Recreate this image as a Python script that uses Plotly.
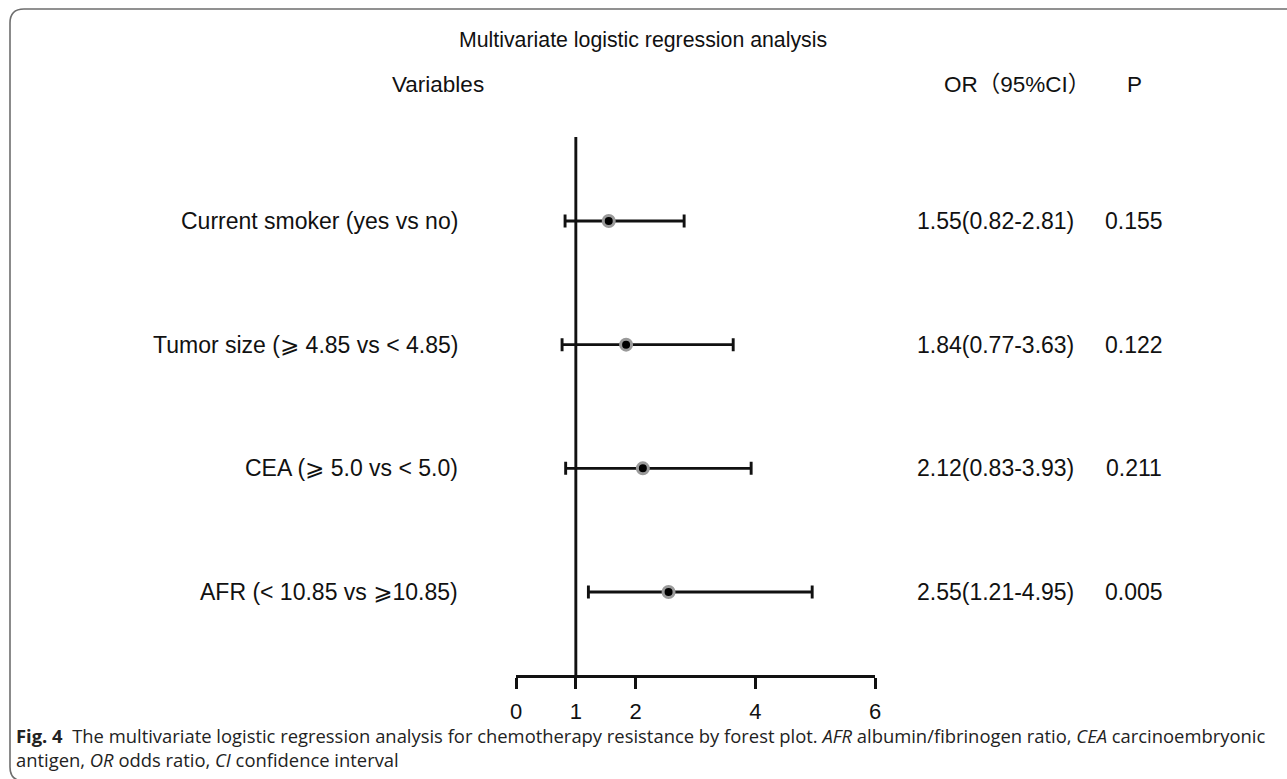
import plotly.graph_objects as go

# ---------------- data ----------------
variables = [
    "Current smoker (yes vs no)",
    "Tumor size (⩾ 4.85 vs < 4.85)",
    "CEA (⩾ 5.0 vs < 5.0)",
    "AFR (< 10.85 vs ⩾10.85)",
]
odds_ratio = [1.55, 1.84, 2.12, 2.55]
ci_low = [0.82, 0.77, 0.83, 1.21]
ci_high = [2.81, 3.63, 3.93, 4.95]
p_values = ["0.155", "0.122", "0.211", "0.005"]
row_pos = [4, 3, 2, 1]
x_ticks = [0, 1, 2, 4, 6]
null_value = 1

title_text = "Multivariate logistic regression analysis"
header_var = "Variables"
header_or = "OR（95%CI）"
header_p = "P"
caption = ("<b>Fig. 4</b>  The multivariate logistic regression analysis for chemotherapy resistance by forest plot. "
           "<i>AFR</i> albumin/fibrinogen ratio, <i>CEA</i> carcinoembryonic<br>"
           "antigen, <i>OR</i> odds ratio, <i>CI</i> confidence interval")

# ---------------- layout geometry (pixels) ----------------
W, H = 1287, 779
PL, PR = 516, 875      # plot area left/right
PT, PB = 137, 675      # plot area top/bottom
ROW_TOP_PX, ROW_BOT_PX = 221, 592


def px_x(px):
    return (px - PL) / (PR - PL)


def px_y(py):
    return (PB - py) / (PB - PT)


FONT = "Liberation Sans, Arial, Noto Sans CJK SC, DejaVu Sans, sans-serif"
TXT = dict(family=FONT, size=23, color="#111111")
HDR = dict(family=FONT, size=22.5, color="#111111")
TTL = dict(family=FONT, size=21.3, color="#111111")
TCK = dict(family=FONT, size=22, color="#111111")
LW = 2.9

or_text = [f"{o:.2f}({l:.2f}-{h:.2f})" for o, l, h in zip(odds_ratio, ci_low, ci_high)]

fig = go.Figure()
fig.add_trace(go.Scatter(
    x=odds_ratio, y=row_pos, mode="markers",
    marker=dict(size=11, color="#000000", line=dict(color="#9a9a9a", width=3)),
    error_x=dict(type="data", symmetric=False,
                 array=[h - o for h, o in zip(ci_high, odds_ratio)],
                 arrayminus=[o - l for o, l in zip(odds_ratio, ci_low)],
                 color="#111111", thickness=LW, width=6.5),
    cliponaxis=False, hoverinfo="skip", showlegend=False,
))

# reference line at OR = 1
fig.add_shape(type="line", xref="x", yref="paper", x0=null_value, x1=null_value,
              y0=0, y1=1, line=dict(color="#111111", width=LW), layer="below")

ann = []
ann.append(dict(text=title_text, xref="paper", yref="paper", x=px_x(643), y=px_y(40),
                showarrow=False, xanchor="center", yanchor="middle", font=TTL))
HY = 85
ann.append(dict(text=header_var, xref="paper", yref="paper", x=px_x(438), y=px_y(HY),
                showarrow=False, xanchor="center", yanchor="middle", font=HDR))
ann.append(dict(text=header_or, xref="paper", yref="paper", x=px_x(1017), y=px_y(HY),
                showarrow=False, xanchor="center", yanchor="middle", font=HDR))
ann.append(dict(text=header_p, xref="paper", yref="paper", x=px_x(1134), y=px_y(HY),
                showarrow=False, xanchor="center", yanchor="middle", font=HDR))
for v, yv, ot, pv in zip(variables, row_pos, or_text, p_values):
    ann.append(dict(text=v, xref="paper", yref="y", x=px_x(460), y=yv,
                    showarrow=False, xanchor="right", yanchor="middle", font=TXT))
    ann.append(dict(text=ot, xref="paper", yref="y", x=px_x(995), y=yv,
                    showarrow=False, xanchor="center", yanchor="middle", font=TXT))
    ann.append(dict(text=pv, xref="paper", yref="y", x=px_x(1134), y=yv,
                    showarrow=False, xanchor="center", yanchor="middle", font=TXT))
ann.append(dict(text=caption, xref="paper", yref="paper", x=px_x(14), y=px_y(721),
                showarrow=False, xanchor="left", yanchor="top", align="left",
                font=dict(family="Open Sans, Noto Sans, sans-serif", size=18.4, color="#222222")))

# rounded frame (left side visible, right and bottom sides beyond the page)
fx0, fy0, fy1, r = 10, 9, 781, 14
path = (f"M {px_x(1300)},{px_y(fy0)} L {px_x(fx0 + r)},{px_y(fy0)} "
        f"Q {px_x(fx0)},{px_y(fy0)} {px_x(fx0)},{px_y(fy0 + r)} "
        f"L {px_x(fx0)},{px_y(fy1 - r)} "
        f"Q {px_x(fx0)},{px_y(fy1)} {px_x(fx0 + r)},{px_y(fy1)} "
        f"L {px_x(1300)},{px_y(fy1)}")
fig.add_shape(type="path", xref="paper", yref="paper", path=path,
              line=dict(color="#6e6e6e", width=1.6))

# y range so that rows land at the wanted pixel rows
step = (ROW_BOT_PX - ROW_TOP_PX) / 3
y_lo = 1 - (PB - ROW_BOT_PX) / step
y_hi = 4 + (ROW_TOP_PX - PT) / step

fig.update_layout(
    width=W, height=H,
    margin=dict(l=PL, r=W - PR, t=PT, b=H - PB, pad=0),
    paper_bgcolor="white", plot_bgcolor="white",
    annotations=ann,
    xaxis=dict(range=[0, 6], tickmode="array", tickvals=x_ticks,
               ticktext=[str(t) for t in x_ticks],
               showline=True, linecolor="#111111", linewidth=LW,
               ticks="outside", ticklen=11, tickwidth=LW, tickcolor="#111111",
               ticklabelstandoff=4,
               showgrid=False, zeroline=False, tickfont=TCK, fixedrange=True),
    yaxis=dict(range=[y_lo, y_hi], visible=False, showgrid=False, zeroline=False,
               fixedrange=True),
    showlegend=False,
)

fig.write_html("out.html", config={"displayModeBar": False},
               post_script="document.body.style.margin='0';document.body.style.overflow='hidden';")
